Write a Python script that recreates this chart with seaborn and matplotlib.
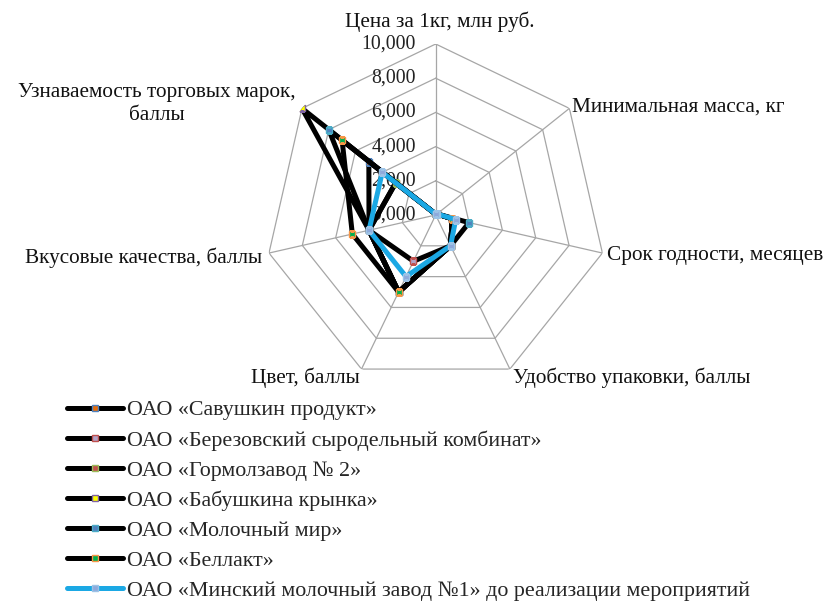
import numpy as np
import pandas as pd
import matplotlib
matplotlib.use("Agg")
import matplotlib.pyplot as plt
import matplotlib.transforms as mtrans
import seaborn as sns

# ---------------- data ----------------
axis_labels = ["Цена за 1кг, млн руб.", "Минимальная масса, кг", "Срок годности, месяцев",
               "Удобство упаковки, баллы", "Цвет, баллы", "Вкусовые качества, баллы",
               "Узнаваемость торговых марок,\nбаллы"]
series_names = ["ОАО «Савушкин продукт»", "ОАО «Березовский сыродельный комбинат»",
                "ОАО «Гормолзавод № 2»", "ОАО «Бабушкина крынка»", "ОАО «Молочный мир»",
                "ОАО «Беллакт»", "ОАО «Минский молочный завод №1» до реализации мероприятий"]
savushkin   = [0.05, 0.1, 1.0, 2.0, 5.0, 4.0, 5.0]
berezovsky  = [0.05, 0.1, 1.0, 2.0, 3.0, 4.0, 3.0]
gormolzavod = [0.05, 0.1, 1.0, 2.0, 5.0, 4.0, 3.0]
babushkina  = [0.05, 0.1, 1.0, 2.0, 5.0, 4.0, 10.0]
molochny    = [0.05, 0.1, 2.0, 2.0, 5.0, 4.0, 8.0]
bellakt     = [0.05, 0.1, 1.0, 2.0, 5.0, 5.0, 7.0]
minsk       = [0.05, 0.1, 1.2, 2.0, 4.0, 4.0, 4.0]
tick_values = [0, 2, 4, 6, 8, 10]
tick_labels = ["0,000", "2,000", "4,000", "6,000", "8,000", "10,000"]

all_series = [savushkin, berezovsky, gormolzavod, babushkina, molochny, bellakt, minsk]
line_colors = ["black"] * 6 + ["#1BA8E4"]
marker_faces = ["#E46C0A", "#B3A2C7", "#C0504D", "#FFFF00", "#4F81BD", "#00B050", "#8EA9DB"]
marker_edges = ["#4F81BD", "#C0504D", "#9BBB59", "#8064A2", "#4BACC6", "#F79646", "#9DC3E6"]

# ---------------- figure ----------------
sns.set_theme(style="white")
plt.rcParams["font.family"] = ["Liberation Serif", "DejaVu Serif"]
fig = plt.figure(figsize=(8.32, 6.04), dpi=100)
cx, cy, R = 435.7, 215.0, 171.0
W, H = 832.0, 604.0
ax = fig.add_axes([(cx - R) / W, 1 - (cy + R) / H, 2 * R / W, 2 * R / H], projection="polar")
ax.set_theta_offset(np.pi / 2)
ax.set_theta_direction(-1)
ax.set_ylim(0, 10)
ax.grid(False)
ax.set_xticks([])
ax.set_yticks([])
ax.spines["polar"].set_visible(False)
ax.patch.set_alpha(0)

n = len(axis_labels)
theta = np.arange(n) * 2 * np.pi / n
theta_c = np.append(theta, 2 * np.pi)

# polygon gridlines and spokes
for v in tick_values[1:]:
    ax.plot(theta_c, [v] * (n + 1), color="#A6A6A6", lw=0.9, zorder=1)
for t in theta:
    ax.plot([t, t], [0, 10], color="#A6A6A6", lw=0.9, zorder=1)

# tick labels along top axis
off = mtrans.offset_copy(ax.transData, fig=fig, x=-20, y=0, units="dots")
for v, lab in zip(tick_values, tick_labels):
    ax.text(0, v, lab, transform=off, ha="right", va="center", fontsize=14.3, color="#222222", zorder=2)

# series
for name, vals, lc, mf, me in zip(series_names, all_series, line_colors, marker_faces, marker_edges):
    df = pd.DataFrame({"theta": theta_c, "value": list(vals) + [vals[0]]})
    sns.lineplot(data=df, x="theta", y="value", sort=False, estimator=None, ax=ax, color=lc, lw=3.6,
                 marker="s", markersize=5, markerfacecolor=mf, markeredgecolor=me,
                 markeredgewidth=1.0, label=name, legend=False, zorder=3)
ax.set_xlabel("")
ax.set_ylabel("")
ax.set_ylim(0, 10)

# axis category labels
def ftext(x, y, s, ha, **kw):
    fig.text(x / W, 1 - y / H, s, ha=ha, va="center", fontsize=15.3, color="#111111", **kw)

ftext(440, 22, axis_labels[0], "center")
ftext(572, 107, axis_labels[1], "left")
ftext(607, 256, axis_labels[2], "left")
ftext(513, 378, axis_labels[3], "left")
ftext(360, 378, axis_labels[4], "right")
ftext(262, 258, axis_labels[5], "right")
ftext(157, 104, axis_labels[6], "center", multialignment="center", linespacing=1.25)

handles = ax.get_lines()[-len(series_names):]
fig.legend(handles, series_names, loc="upper left", bbox_to_anchor=(67 / W, 1 - 400 / H),
           frameon=False, fontsize=15.8, handlelength=2.55, handletextpad=0.18,
           labelspacing=0.44, borderpad=0, borderaxespad=0)

fig.savefig("out.png", dpi=100, facecolor="white")
